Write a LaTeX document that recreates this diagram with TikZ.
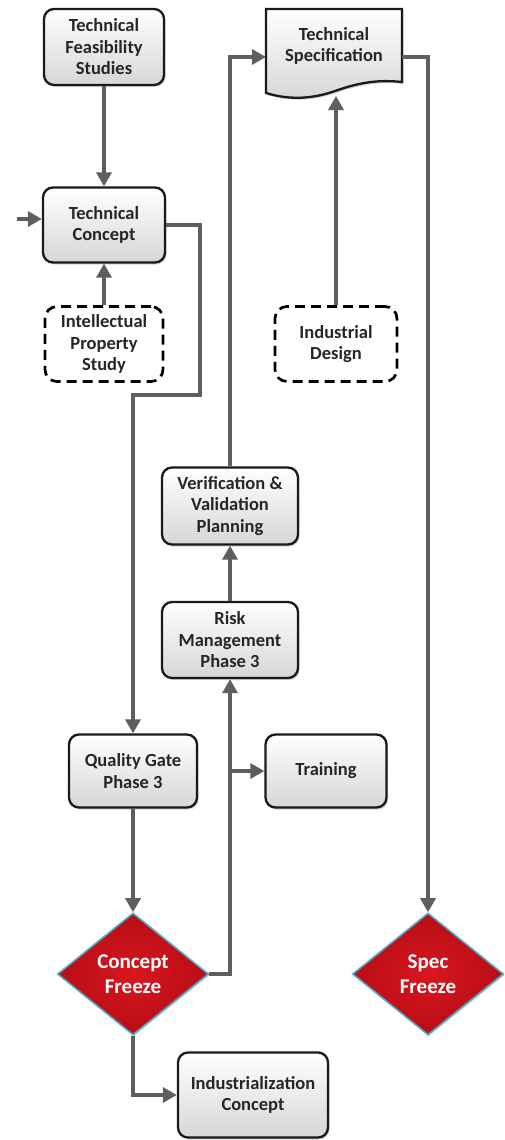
\documentclass[tikz,border=0pt]{standalone}
\usepackage{fontspec}
\setmainfont{Carlito}
\usetikzlibrary{shapes.geometric,arrows.meta,shadows,calc}

\definecolor{linegray}{HTML}{5E5E5E}
\definecolor{boxedge}{HTML}{1A1A1A}
\definecolor{txt}{HTML}{262626}
\definecolor{redin}{HTML}{D8161F}
\definecolor{redout}{HTML}{B80D16}
\definecolor{diaedge}{HTML}{4FA9C2}

\tikzset{
  lbl/.style={font=\bfseries\fontsize{18.5}{21.5}\selectfont, text=txt, align=center},
  stepbox/.style={lbl, rectangle, rounded corners=10pt, draw=boxedge, line width=2.3pt,
    top color=white, middle color=white, bottom color=gray!32, inner sep=2pt,
    drop shadow={shadow xshift=1.5pt, shadow yshift=-2pt, opacity=0.35}},
  dashbox/.style={lbl, rectangle, rounded corners=12pt, draw=black, line width=2.7pt,
    dash pattern=on 10pt off 6pt, fill=white, inner sep=2pt},
  gate/.style={diamond, draw=diaedge, line width=1.6pt, inner sep=0pt,
    inner color=redin, outer color=redout, text=white, align=center,
    font=\bfseries\fontsize{21}{25}\selectfont,
    minimum width=151pt, minimum height=122pt,
    drop shadow={shadow xshift=1pt, shadow yshift=-1.5pt, opacity=0.3}},
  flow/.style={draw=linegray, line width=3.3pt,
    -{Triangle[length=14pt,width=15pt]}},
}

\begin{document}
\begin{tikzpicture}[x=1pt,y=-1pt]
\useasboundingbox (0,0) rectangle (504,1140);

% process boxes
\node[stepbox, minimum width=120pt, minimum height=76pt] (tfs) at (104,47) {Technical\\Feasibility\\Studies};
\node[stepbox, minimum width=122pt, minimum height=75pt] (tc) at (104,225) {Technical\\Concept};
\node[dashbox, minimum width=118pt, minimum height=75pt] (ip) at (104,344) {Intellectual\\Property\\Study};
\node[dashbox, minimum width=122pt, minimum height=75pt] (id) at (336,344) {Industrial\\Design};
\node[stepbox, minimum width=136pt, minimum height=77pt] (vv) at (230,506) {Verification \&\\Validation\\Planning};
\node[stepbox, minimum width=136pt, minimum height=76pt] (rm) at (230,640) {Risk\\Management\\Phase 3};
\node[stepbox, minimum width=128pt, minimum height=73pt] (qg) at (133,771) {Quality Gate\\Phase 3};
\node[stepbox, minimum width=121pt, minimum height=73pt] (tr) at (326,771) {Training};
\node[stepbox, minimum width=150pt, minimum height=85pt] (ic) at (253,1095) {Industrialization\\Concept};

% document shape for the specification
\path[drop shadow={shadow xshift=1.5pt, shadow yshift=-2pt, opacity=0.35},
      draw=boxedge, line width=2.3pt, top color=white, middle color=white, bottom color=gray!32]
  (266,9) -- (402,9) -- (402,82)
  .. controls (375,79) and (355,84) .. (335,91)
  .. controls (315,98) and (292,101) .. (266,93) -- cycle;
\node[lbl] (ts) at (334,46) {Technical\\Specification};
\coordinate (tsl) at (266,57);
\coordinate (tsr) at (402,57);
\coordinate (tsb) at (336,96);

% decision gates
\node[gate] (cf) at (133,974) {Concept\\Freeze};
\node[gate] (sf) at (428,974) {Spec\\Freeze};

% connectors
\coordinate (in) at (17,219);
\coordinate (b1) at (200,395);
\coordinate (br) at (rm.south |- tr.west);

\draw[flow] (tfs.south) -- (tc.north);
\draw[flow] (in) -- (tc.west |- in);
\draw[flow] (ip.north) -- (tc.south);
\draw[flow] (tc.east) -| (b1) -| (qg.north);
\draw[flow] (qg.south) -- (cf.north);
\draw[flow] (cf.east) -| (rm.south);
\draw[flow] (br) -- (tr.west);
\draw[flow] (rm.north) -- (vv.south);
\draw[flow] (vv.north) |- (tsl);
\draw[flow] (id.north) -- (tsb);
\draw[flow] (tsr) -| (sf.north);
\draw[flow] (cf.south) |- (ic.west);
\end{tikzpicture}
\end{document}
